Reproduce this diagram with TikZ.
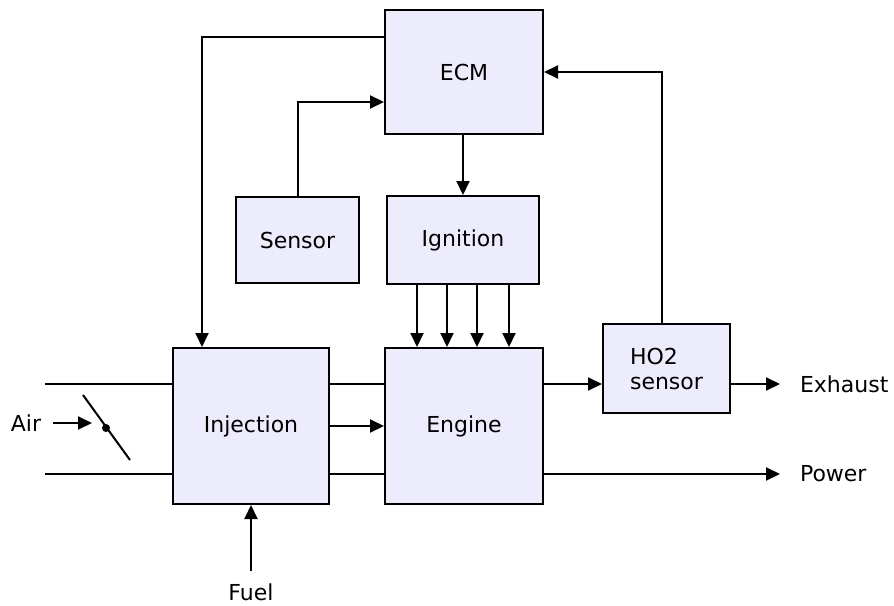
\documentclass[tikz,border=0pt]{standalone}
\usepackage{fontspec}
\setmainfont{DejaVu Sans}
\usetikzlibrary{arrows.meta,positioning}
\definecolor{blockfill}{RGB}{236,236,252}
\begin{document}
\begin{tikzpicture}[
            x=1pt, y=-1pt,
                line width=2pt,
                >={Triangle[length=14pt, width=13pt]},
                block/.style={rectangle, draw=black, fill=blockfill, line width=2pt, inner sep=0pt, align=center, font=\fontsize{22}{25}\selectfont},
                plain_text/.style={inner sep=2pt, font=\fontsize{22}{25}\selectfont}
            ]
              \useasboundingbox (0,0) rectangle (894,605);

              % blocks
              \node[block, minimum width=158pt, minimum height=124pt] (ecm) at (464,72) {ECM};
              \node[block, minimum width=123pt, minimum height=86pt] (sensor) at (297.5,240) {Sensor};
              \node[block, minimum width=152pt, minimum height=88pt] (ign) at (463,240) {Ignition};
              \node[block, minimum width=156pt, minimum height=156pt] (inj) at (251,426) {Injection};
              \node[block, minimum width=158pt, minimum height=156pt] (eng) at (464,426) {Engine};
              \node[block, minimum width=127pt, minimum height=89pt, align=left] (ho2) at (666.5,368.5) {HO2\\sensor};

              % free ends
              \coordinate (air_top) at (45,384);
              \coordinate (air_bot) at (45,474);
              \coordinate (valve) at (106,428);
              \coordinate (exh_end) at (780,384);
              \coordinate (pwr_end) at (780,474);
              \coordinate (fuel_start) at (251,571);

              \node[plain_text] (air) at (26,423) {Air};
              \node[plain_text, right=17pt of exh_end] (exh) {Exhaust};
              \node[plain_text, right=17pt of pwr_end] (pwr) {Power};
              \node[plain_text] (fuel) at (251,592) {Fuel};

              % control lines
              \draw[->] ([yshift=-28pt]ecm.north west) -| ([xshift=30pt]inj.north west);
              \draw[->] (sensor.north) |- ([yshift=-30pt]ecm.west);
              \draw[->] (ign.north |- ecm.south) -- (ign.north);
              \foreach \dx in {-46,-16,14,46}
                \draw[->] ([xshift=\dx pt]ign.south) -- ([xshift=\dx pt]ign.south |- eng.north);
              \draw[->] ([xshift=-4.5pt]ho2.north) |- (ecm.east);

              % air and fuel path
              \draw (air_top) -- (air_top -| inj.west);
              \draw (air_bot) -- (air_bot -| inj.west);
              \draw[->, shorten <=9pt] (air.east) -- ([xshift=-14pt]valve |- air.east);
              \draw (valve) +(-23,-33) -- +(24,32);
              \fill (valve) circle (4pt);
              \draw (air_top -| inj.east) -- (air_top -| eng.west);
              \draw (air_bot -| inj.east) -- (air_bot -| eng.west);
              \draw[->] (inj.east) -- (inj.east -| eng.west);
              \draw[->] (fuel_start) -- (fuel_start |- inj.south);

              % outputs
              \draw[->] (exh_end -| eng.east) -- (exh_end -| ho2.west);
              \draw[->] (exh_end -| ho2.east) -- (exh_end);
              \draw[->] (pwr_end -| eng.east) -- (pwr_end);
            \end{tikzpicture}
\end{document}
